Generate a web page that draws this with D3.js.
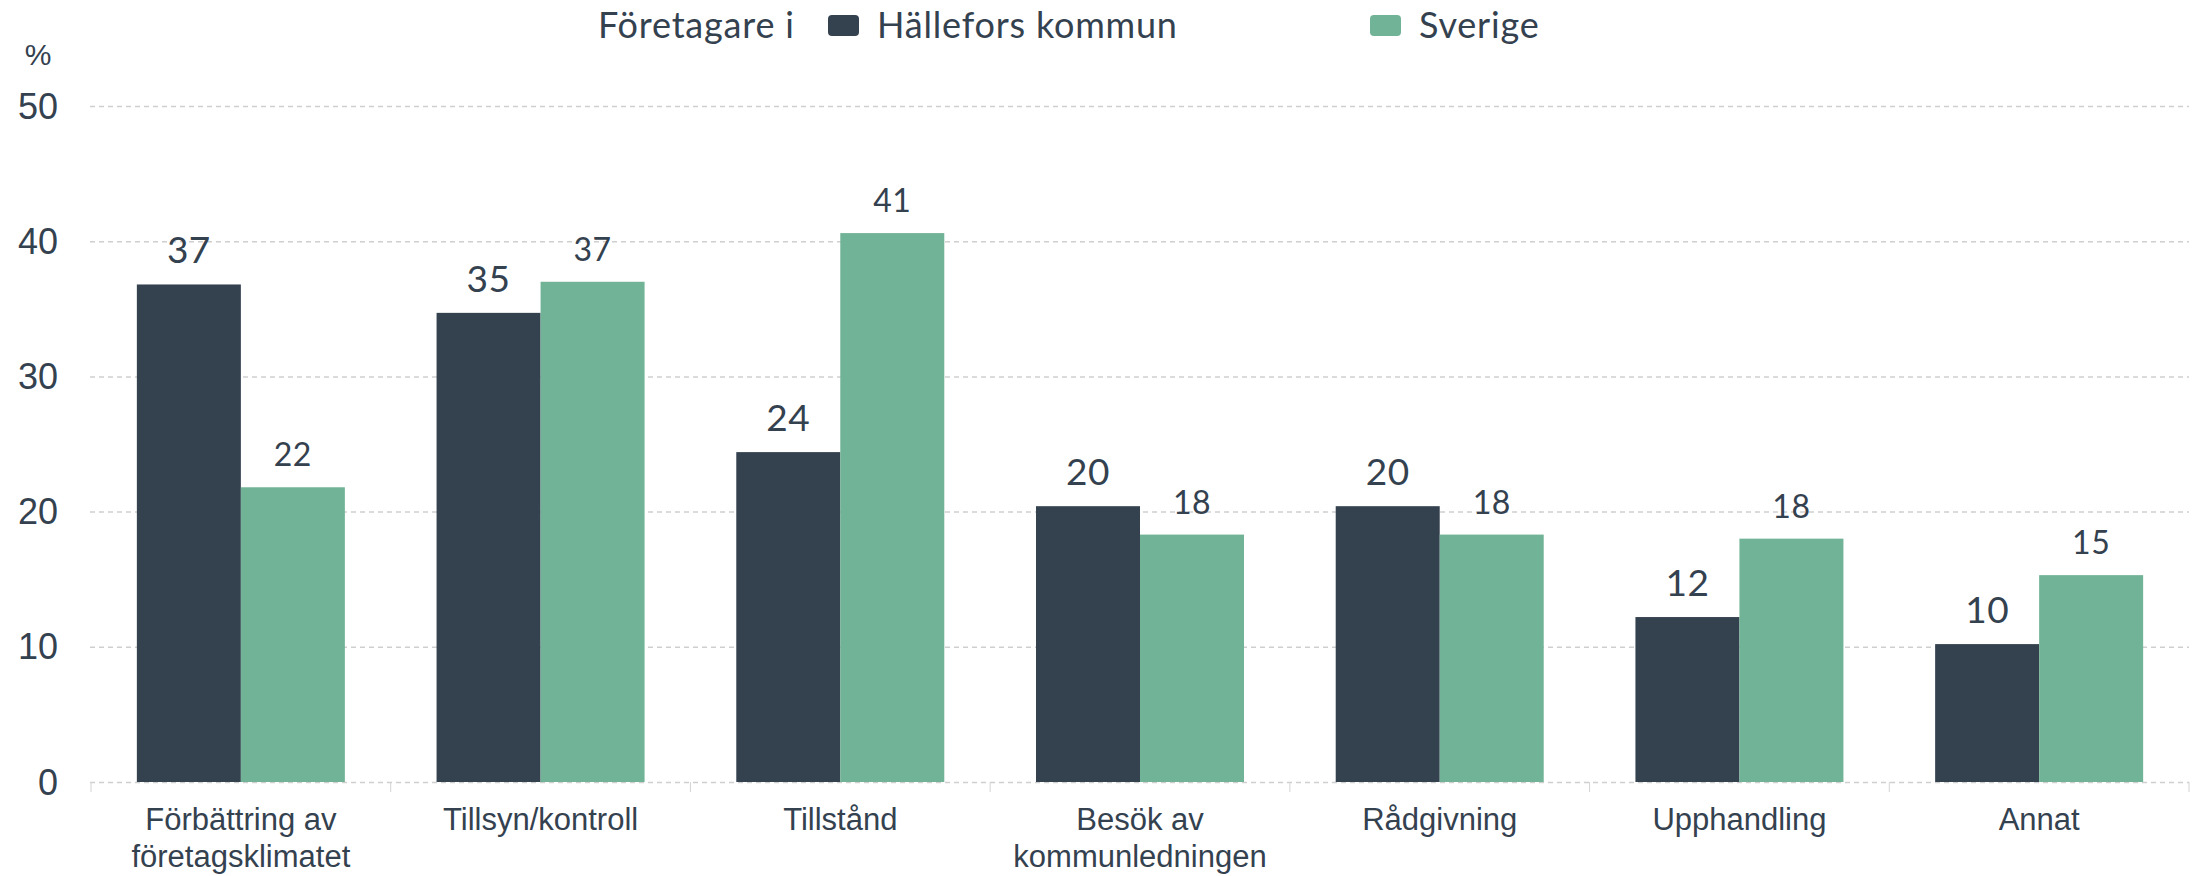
<!DOCTYPE html>
<html>
<head>
<meta charset="utf-8">
<script src="https://cdn.jsdelivr.net/npm/d3@7"></script>
<style>
    html, body { margin: 0; padding: 0; background: #fff; }
    svg { display: block; }
</style>
</head>
<body>
<svg class="chart"></svg>
<script>
var categories = [
    ["Förbättring av", "företagsklimatet"],
    ["Tillsyn/kontroll"],
    ["Tillstånd"],
    ["Besök av", "kommunledningen"],
    ["Rådgivning"],
    ["Upphandling"],
    ["Annat"]
];
var seriesNames = ["Hällefors kommun", "Sverige"];
var hallefors = [36.8, 34.7, 24.4, 20.4, 20.4, 12.2, 10.2];
var sverige = [21.8, 37.0, 40.6, 18.3, 18.3, 18.0, 15.3];
var yTicks = [0, 10, 20, 30, 40, 50];

var width = 2193;
var height = 876;
var textColor = "#34414f";
var colors = ["#34414f", "#71b396"];

var svg = d3.select("svg.chart")
    .attr("width", width)
    .attr("height", height);

var keys = categories.map(function(c) { return c.join(" "); });

var x = d3.scaleBand()
    .domain(keys)
    .range([91, 2189])
    .paddingInner(0.306)
    .paddingOuter(0.153);

var x1 = d3.scaleBand()
    .domain(seriesNames)
    .range([0, x.bandwidth()]);

var y = d3.scaleLinear()
    .domain([0, 50])
    .range([782, 106]);

// gridlines
svg.append("g")
    .selectAll("line")
    .data(yTicks)
    .enter()
    .append("line")
    .attr("x1", 90)
    .attr("x2", 2189)
    .attr("y1", function(d) { return y(d) + 0.5; })
    .attr("y2", function(d) { return y(d) + 0.5; })
    .attr("stroke", "#cfcfcf")
    .attr("stroke-width", 1.5)
    .attr("stroke-dasharray", "5,4");

// y labels
svg.append("g")
    .selectAll("text")
    .data(yTicks)
    .enter()
    .append("text")
    .attr("x", 58)
    .attr("y", function(d) { return y(d); })
    .attr("dy", "0.35em")
    .attr("text-anchor", "end")
    .attr("font-family", "Liberation Sans, Arial, sans-serif")
    .attr("font-size", 36)
    .attr("fill", textColor)
    .text(function(d) { return d; });

svg.append("text")
    .attr("x", 38)
    .attr("y", 65)
    .attr("text-anchor", "middle")
    .attr("font-family", "Liberation Sans, Arial, sans-serif")
    .attr("font-size", 30)
    .attr("fill", textColor)
    .text("%");

// ticks between groups
var step = x.step();
var tickXs = d3.range(keys.length + 1).map(function(i) {
    return x.range()[0] + i * step;
});
svg.append("g")
    .selectAll("line")
    .data(tickXs)
    .enter()
    .append("line")
    .attr("x1", function(d) { return d; })
    .attr("x2", function(d) { return d; })
    .attr("y1", y(0))
    .attr("y2", y(0) + 10)
    .attr("stroke", "#d4d4d4")
    .attr("stroke-width", 1);

// bars
var rows = keys.map(function(k, i) {
    return {key: k, values: [
        {name: seriesNames[0], value: hallefors[i]},
        {name: seriesNames[1], value: sverige[i]}
    ]};
});

var groups = svg.append("g")
    .selectAll("g")
    .data(rows)
    .enter()
    .append("g")
    .attr("transform", function(d) { return "translate(" + x(d.key) + ",0)"; });

groups.selectAll("rect")
    .data(function(d) { return d.values; })
    .enter()
    .append("rect")
    .attr("x", function(d) { return x1(d.name); })
    .attr("y", function(d) { return y(d.value); })
    .attr("width", x1.bandwidth())
    .attr("height", function(d) { return y(0) - y(d.value); })
    .attr("fill", function(d, i) { return colors[i]; });

groups.selectAll("text")
    .data(function(d) { return d.values; })
    .enter()
    .append("text")
    .attr("x", function(d) { return x1(d.name) + x1.bandwidth() / 2; })
    .attr("y", function(d) { return y(d.value) - 21; })
    .attr("text-anchor", "middle")
    .attr("font-family", "Lato, sans-serif")
    .attr("font-size", function(d, i) { return i === 0 ? 37 : 32; })
    .attr("letter-spacing", 0.5)
    .attr("fill", textColor)
    .text(function(d) { return Math.round(d.value); });

// category labels
svg.append("g")
    .selectAll("text")
    .data(categories)
    .enter()
    .append("text")
    .attr("x", function(d) { return x(d.join(" ")) + x.bandwidth() / 2; })
    .attr("y", 830)
    .attr("text-anchor", "middle")
    .attr("font-family", "Liberation Sans, Arial, sans-serif")
    .attr("font-size", 31)
    .attr("fill", textColor)
    .selectAll("tspan")
    .data(function(d) { return d; })
    .enter()
    .append("tspan")
    .attr("x", function() { return d3.select(this.parentNode).attr("x"); })
    .attr("dy", function(d, i) { return i === 0 ? 0 : 37; })
    .text(function(d) { return d; });

// legend
var legend = svg.append("g")
    .attr("font-family", "Lato, sans-serif")
    .attr("font-size", 36)
    .attr("letter-spacing", 0.8)
    .attr("fill", textColor);

legend.append("text")
    .attr("x", 598)
    .attr("y", 38)
    .text("Företagare i");

var legendX = [828, 1370];
seriesNames.forEach(function(name, i) {
    legend.append("rect")
        .attr("x", legendX[i])
        .attr("y", 15)
        .attr("width", 31)
        .attr("height", 21)
        .attr("rx", 4)
        .attr("fill", colors[i]);
    legend.append("text")
        .attr("x", legendX[i] + 49)
        .attr("y", 38)
        .text(name);
});
</script>
</body>
</html>
